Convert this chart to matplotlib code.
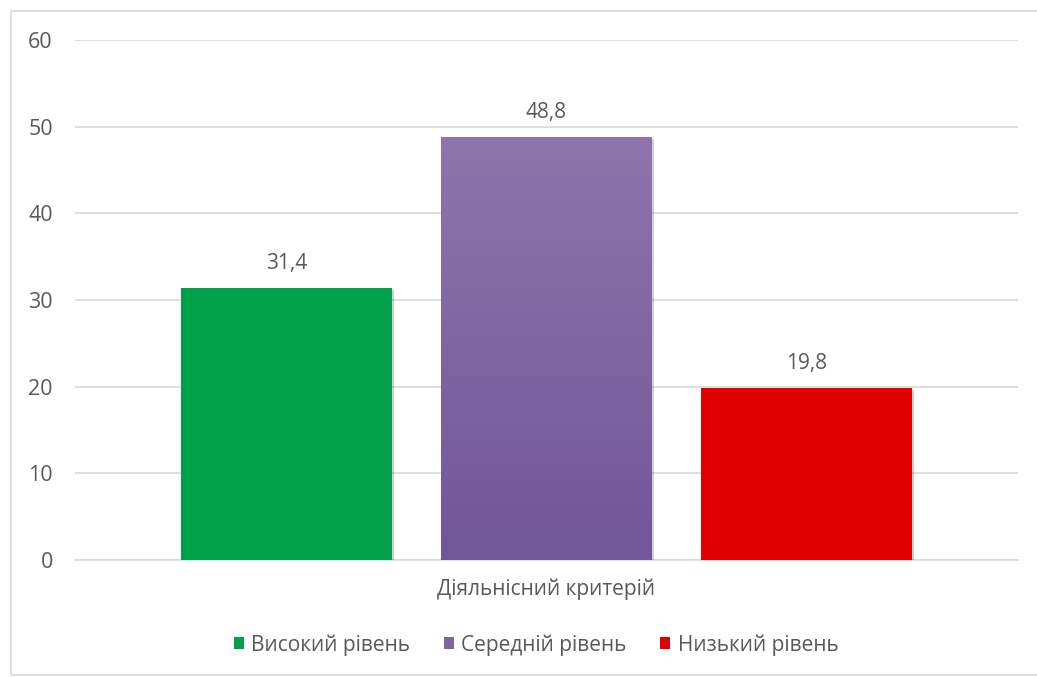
import matplotlib.pyplot as plt
import matplotlib.patheffects as pe
import numpy as np
from matplotlib.colors import LinearSegmentedColormap
from matplotlib.patches import Rectangle

plt.rcParams['font.family'] = ['Open Sans', 'DejaVu Sans']

category = "Діяльнісний критерій"
levels = ["Високий рівень", "Середній рівень", "Низький рівень"]
values = [31.4, 48.8, 19.8]
labels = ["31,4", "48,8", "19,8"]
yticks = [0, 10, 20, 30, 40, 50, 60]

colors = ["#00A04A", "#8064A2", "#E00000"]
text_c = "#595959"

fig = plt.figure(figsize=(10.37, 6.77), dpi=100)
W, H = 1037, 677
ax = fig.add_axes([75 / W, 1 - 560 / H, (1018 - 75) / W, (560 - 40) / H])

# outer chart border
fig.patches.append(Rectangle((11 / W, 2 / H), 1.2, (675 - 11) / H,
                             transform=fig.transFigure, fill=False,
                             edgecolor="#D9D9D9", lw=1.2))

x = np.arange(len(values))
width = 211 / 260
bars = ax.bar(x, values, width=width, color=colors, zorder=3,
              path_effects=[pe.withSimplePatchShadow(offset=(1.5, -1.5),
                                                     shadow_rgbFace="black", alpha=0.18)])

# gradient on the middle bar
grad = LinearSegmentedColormap.from_list("g", ["#72559A", "#8E75AB"])
b = bars[1]
img = ax.imshow(np.linspace(0, 1, 256).reshape(-1, 1), cmap=grad, aspect="auto",
                origin="lower", extent=[b.get_x(), b.get_x() + b.get_width(), 0, b.get_height()],
                zorder=4)
img.set_clip_path(b)

for xi, v, lab in zip(x, values, labels):
    ax.text(xi, v + 2.85, lab, ha="center", va="center", fontsize=15, color=text_c)

half = 943 / 260 / 2
ax.set_xlim(1 - half, 1 + half)
ax.set_ylim(0, 60)
ax.set_yticks(yticks)
ax.set_yticklabels([str(t) for t in yticks], fontsize=15.5, color=text_c)
ax.set_xticks([])
ax.tick_params(axis="y", length=0, pad=16)
ax.grid(axis="y", color="#D9D9D9", lw=1.2, zorder=0)
for s in ["top", "right", "left"]:
    ax.spines[s].set_visible(False)
ax.spines["bottom"].set_color("#D9D9D9")
ax.spines["bottom"].set_linewidth(1.2)
ax.set_xlabel(category, fontsize=15, color=text_c, labelpad=13)

leg = fig.legend(bars, levels, loc="center", bbox_to_anchor=(536 / W, 1 - 645 / H),
                 ncol=3, frameon=False, fontsize=15, handlelength=0.5, handleheight=0.5,
                 columnspacing=1.6, handletextpad=0.35, labelcolor=text_c)
for h in leg.legend_handles:
    h.set_path_effects([])

fig.savefig("out.png", dpi=100)
